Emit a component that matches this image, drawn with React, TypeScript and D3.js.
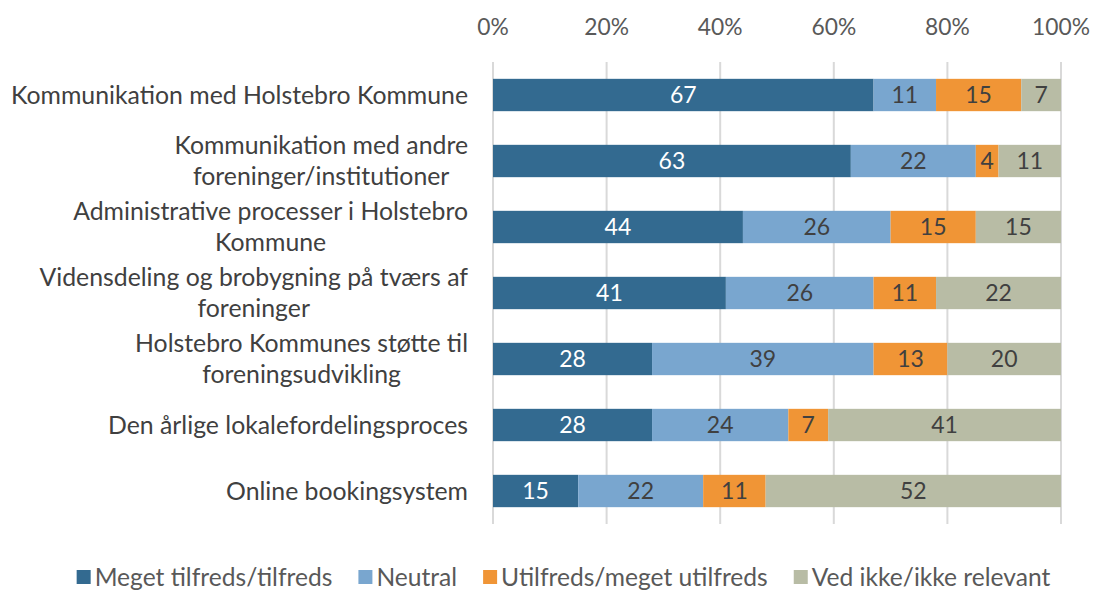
import React, { useEffect, useRef } from 'react';
import * as d3 from 'd3';

const categories = [
  'Kommunikation med Holstebro Kommune',
  'Kommunikation med andre\nforeninger/institutioner',
  'Administrative processer i Holstebro\nKommune',
  'Vidensdeling og brobygning på tværs af\nforeninger',
  'Holstebro Kommunes støtte til\nforeningsudvikling',
  'Den årlige lokalefordelingsproces',
  'Online bookingsystem',
];

const seriesNames = [
  'Meget tilfreds/tilfreds',
  'Neutral',
  'Utilfreds/meget utilfreds',
  'Ved ikke/ikke relevant',
];

const tilfreds = [67, 63, 44, 41, 28, 28, 15];
const neutral = [11, 22, 26, 26, 39, 24, 22];
const utilfreds = [15, 4, 15, 11, 13, 7, 11];
const vedIkke = [7, 11, 15, 22, 20, 41, 52];

const tickValues = [0, 0.2, 0.4, 0.6, 0.8, 1];

const colors = ['#336a90', '#79a6cf', '#f09536', '#b8bca5'];
const labelColors = ['#ffffff', '#404040', '#404040', '#404040'];

const FONT = 'Lato, "Open Sans", sans-serif';

const App = () => {
  const ref = useRef<SVGSVGElement>(null);

  useEffect(() => {
    const svg = d3.select(ref.current);
    svg.selectAll('*').remove();

    const left = 493;
    const right = 1061;
    const top = 62;
    const bottom = 524;

    const x = d3.scaleLinear().domain([0, 1]).range([left, right]);
    const y = d3
      .scaleBand()
      .domain(categories)
      .range([top, bottom])
      .paddingInner(0.51)
      .paddingOuter(0.255);

    const values = [tilfreds, neutral, utilfreds, vedIkke];
    const rows = categories.map((c, i) => {
      const row: any = { cat: c };
      seriesNames.forEach((s, j) => (row[s] = values[j][i]));
      return row;
    });
    const stacked = d3.stack().keys(seriesNames).offset(d3.stackOffsetExpand)(rows);

    // gridlines
    svg
      .append('g')
      .selectAll('line')
      .data(tickValues)
      .enter()
      .append('line')
      .attr('x1', (d) => x(d))
      .attr('x2', (d) => x(d))
      .attr('y1', top)
      .attr('y2', bottom)
      .attr('stroke', '#d9d9d9')
      .attr('stroke-width', 2);

    // top tick labels
    svg
      .append('g')
      .selectAll('text')
      .data(tickValues)
      .enter()
      .append('text')
      .attr('x', (d) => x(d))
      .attr('y', 27)
      .attr('dy', '0.35em')
      .attr('text-anchor', 'middle')
      .attr('font-family', FONT)
      .attr('font-size', 22.8)
      .attr('fill', '#595959')
      .text((d) => d3.format('.0%')(d));

    // bars
    stacked.forEach((layer, j) => {
      const g = svg.append('g');
      g.selectAll('rect')
        .data(layer)
        .enter()
        .append('rect')
        .attr('x', (d) => x(d[0]))
        .attr('y', (d) => y(d.data.cat as string)!)
        .attr('width', (d) => x(d[1]) - x(d[0]))
        .attr('height', y.bandwidth())
        .attr('fill', colors[j]);
      g.selectAll('text')
        .data(layer)
        .enter()
        .append('text')
        .attr('x', (d) => (x(d[0]) + x(d[1])) / 2)
        .attr('y', (d) => y(d.data.cat as string)! + y.bandwidth() / 2)
        .attr('dy', '0.35em')
        .attr('text-anchor', 'middle')
        .attr('font-family', FONT)
        .attr('font-size', 23)
        .attr('fill', labelColors[j])
        .text((d) => values[j][categories.indexOf(d.data.cat as string)]);
    });

    // category labels (multi-line centered as a block, right aligned)
    const labelRight = 468;
    const lineH = 31;
    categories.forEach((c) => {
      const lines = c.split('\n');
      const cy = y(c)! + y.bandwidth() / 2;
      const g = svg.append('g');
      const texts = lines.map((ln, k) =>
        g
          .append('text')
          .attr('y', cy + (k - (lines.length - 1) / 2) * lineH)
          .attr('dy', '0.35em')
          .attr('font-family', FONT)
          .attr('font-size', 24.8)
          .attr('fill', '#404040')
          .text(ln)
      );
      const widths = texts.map((t) => (t.node() as SVGTextElement).getComputedTextLength());
      const maxW = d3.max(widths) || 0;
      texts.forEach((t) => t.attr('x', labelRight - maxW / 2).attr('text-anchor', 'middle'));
    });

    // legend
    const legend = svg.append('g');
    let lx = 0;
    const gap = 26;
    seriesNames.forEach((s, j) => {
      legend
        .append('rect')
        .attr('x', lx)
        .attr('y', 570)
        .attr('width', 14)
        .attr('height', 14)
        .attr('fill', colors[j]);
      const t = legend
        .append('text')
        .attr('x', lx + 18)
        .attr('y', 577)
        .attr('dy', '0.35em')
        .attr('font-family', FONT)
        .attr('font-size', 24.6)
        .attr('fill', '#595959')
        .text(s);
      lx += 18 + (t.node() as SVGTextElement).getComputedTextLength() + gap;
    });
    const total = lx - gap;
    legend.attr('transform', `translate(${(75 + 1052) / 2 - total / 2},0)`);
  }, []);

  return (
    <svg
      ref={ref}
      width={1094}
      height={590}
      style={{ position: 'absolute', left: 0, top: 0, background: '#fff' }}
    />
  );
};

export default App;
